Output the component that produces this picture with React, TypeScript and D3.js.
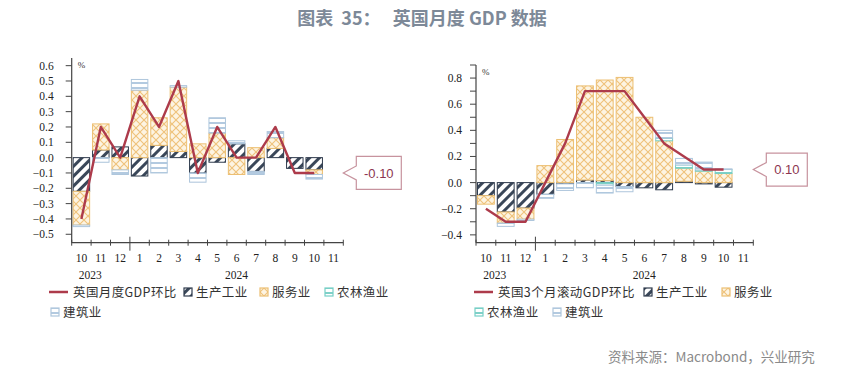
import React from "react";
import * as d3 from "d3";

const W = 859;
const H = 375;

// ---- data ----
const months = ["10", "11", "12", "1", "2", "3", "4", "5", "6", "7", "8", "9", "10", "11"];
const years = ["2023", "2024"];
const seriesNames = ["生产工业", "服务业", "农林渔业", "建筑业"];
const leftLineName = "英国月度GDP环比";
const rightLineName = "英国3个月滚动GDP环比";

// monthly m/m
const gdpMoM = [-0.4, 0.2, 0.0, 0.4, 0.2, 0.5, -0.1, 0.2, 0.0, 0.0, 0.2, -0.1, -0.1];
const prodMoM = [-0.22, 0.05, 0.07, -0.12, 0.08, 0.04, -0.1, -0.03, 0.09, -0.09, 0.06, -0.07, -0.08];
const servMoM = [-0.22, 0.17, -0.08, 0.44, 0.18, 0.42, 0.09, 0.16, -0.11, 0.065, 0.07, 0.0, -0.03];
const agriMoM = [0, 0, 0, 0, 0, 0, 0, 0, 0, 0, 0, 0, 0];
const consMoM = [-0.01, -0.03, -0.03, 0.07, -0.1, 0.01, -0.06, 0.1, 0.02, -0.02, 0.04, 0.0, -0.03];

// 3-month rolling
const gdp3M = [-0.2, -0.3, -0.3, 0.0, 0.3, 0.7, 0.7, 0.7, 0.5, 0.3, 0.2, 0.1, 0.1];
const prod3M = [-0.1, -0.225, -0.195, -0.09, -0.01, 0.02, 0.015, -0.03, -0.04, -0.055, 0.01, -0.01, -0.035];
const serv3M = [-0.065, -0.085, -0.085, 0.13, 0.33, 0.72, 0.77, 0.805, 0.5, 0.32, 0.1, 0.087, 0.07];
const agri3M = [0, 0, 0, 0, 0, 0, -0.02, 0, 0, 0.02, 0.025, 0.01, 0.03];
const cons3M = [0, -0.025, -0.01, -0.03, -0.05, -0.04, -0.06, -0.04, 0, 0.06, 0.05, 0.06, 0.005];

const leftTicks = d3.range(-5, 7).map((d) => d / 10);
const rightTicks = d3.range(-4, 10).map((d) => d / 10);
const rightLabelTicks = d3.range(-4, 9, 2).map((d) => d / 10);

const keys = ["prod", "serv", "agri", "cons"];
const seriesStyle: Record<string, { fill: string; stroke: string }> = {
  prod: { fill: "url(#pProd)", stroke: "#2f3b4d" },
  serv: { fill: "url(#pServ)", stroke: "#ecbf72" },
  agri: { fill: "url(#pAgri)", stroke: "#76cfc6" },
  cons: { fill: "url(#pCons)", stroke: "#aec6dc" },
};

const LINE_COLOR = "#ad3b4b";
const AXIS_COLOR = "#444";
const SERIF = "'Liberation Serif', 'DejaVu Serif', serif";
const CJK = "'Noto Sans CJK SC', 'Noto Sans', sans-serif";

type LegendItem = { kind: "line" | "box"; key?: string; label: string; x: number; y: number };

type PanelCfg = {
  xRange: [number, number];
  yDomain: [number, number];
  yRange: [number, number];
  ticks: number[];
  labelTicks: number[];
  labelGap: number;
  line: number[];
  parts: Record<string, number[]>;
  legend: LegendItem[];
  callout: string;
  calloutW: number;
};

function Panel({ cfg }: { cfg: PanelCfg }) {
  const x = d3.scaleBand<number>().domain(d3.range(months.length)).range(cfg.xRange).paddingInner(0.15).paddingOuter(0.075);
  const y = d3.scaleLinear().domain(cfg.yDomain).range(cfg.yRange);
  const step = x.step();
  const x0 = cfg.xRange[0];
  const x1 = cfg.xRange[1];
  const yBottom = cfg.yRange[0];
  const yTop = cfg.yRange[1];

  const rows = cfg.line.map((_, i) => {
    const r: Record<string, number> = {};
    keys.forEach((k) => (r[k] = cfg.parts[k][i]));
    return r;
  });
  const stacked = d3.stack<Record<string, number>>().keys(keys).offset(d3.stackOffsetDiverging)(rows);

  const linePath = d3
    .line<number>()
    .x((_, i) => (x(i) as number) + x.bandwidth() / 2)
    .y((d) => y(d))(cfg.line);

  const lastVal = cfg.line[cfg.line.length - 1];
  const tipX = x1;
  const tipY = y(lastVal);
  const bx = tipX + 13;
  const bw = cfg.calloutW;
  const bh = 33;
  const calloutPath = `M${bx},${tipY - bh / 2} H${bx + bw} V${tipY + bh / 2} H${bx} V${tipY + 7} L${tipX},${tipY} L${bx},${tipY - 7} Z`;

  return (
    <g>
      {stacked.map((s) => (
        <g key={s.key}>
          {s.map((d, i) => {
            const h = Math.abs(y(d[0]) - y(d[1]));
            if (h < 0.5) return null;
            return (
              <rect
                key={i}
                x={x(i)}
                width={x.bandwidth()}
                y={Math.min(y(d[0]), y(d[1]))}
                height={h}
                fill={seriesStyle[s.key].fill}
                stroke={seriesStyle[s.key].stroke}
                strokeWidth={1}
              />
            );
          })}
        </g>
      ))}
      <path d={linePath || ""} fill="none" stroke={LINE_COLOR} strokeWidth={2.4} strokeLinejoin="round" />

      <line x1={x0} x2={x0} y1={yBottom} y2={yTop} stroke={AXIS_COLOR} strokeWidth={1.2} />
      {cfg.ticks.map((t) => (
        <line key={t} x1={x0 - 6} x2={x0} y1={y(t)} y2={y(t)} stroke={AXIS_COLOR} strokeWidth={1} />
      ))}
      {cfg.labelTicks.map((t) => (
        <text key={t} x={x0 - cfg.labelGap} y={y(t)} dy="0.35em" textAnchor="end" fontFamily={SERIF} fontSize={11.5} fill="#222">
          {d3.format(".1f")(t)}
        </text>
      ))}
      <text x={x0 + 6} y={yTop + 10} fontFamily={SERIF} fontSize={9} fill="#333">%</text>

      <line x1={x0} x2={x1} y1={yBottom} y2={yBottom} stroke={AXIS_COLOR} strokeWidth={1.2} />
      {d3.range(months.length + 1).map((i) => (
        <line
          key={i}
          x1={x0 + (x1 - x0) * (i / months.length)}
          x2={x0 + (x1 - x0) * (i / months.length)}
          y1={yBottom - (i === 3 ? 6 : 3)}
          y2={yBottom + (i === 3 ? 8 : 3)}
          stroke={AXIS_COLOR}
          strokeWidth={1}
        />
      ))}
      {months.map((m, i) => (
        <text key={i} x={(x(i) as number) + x.bandwidth() / 2} y={yBottom + 19} textAnchor="middle" fontFamily={SERIF} fontSize={11.5} fill="#222">
          {m}
        </text>
      ))}
      <text x={(x(0) as number) + x.bandwidth() / 2 + step * 0.45} y={yBottom + 36} textAnchor="middle" fontFamily={SERIF} fontSize={11.5} fill="#222">
        {years[0]}
      </text>
      <text x={(x0 + step * 3 + x1) / 2} y={yBottom + 36} textAnchor="middle" fontFamily={SERIF} fontSize={11.5} fill="#222">
        {years[1]}
      </text>

      <path d={calloutPath} fill="#fff" stroke="#c7939e" strokeWidth={1.2} />
      <text x={bx + bw / 2} y={tipY} dy="0.36em" textAnchor="middle" fontFamily="'Liberation Sans', Arial, sans-serif" fontSize={13} fill="#8c3550">
        {cfg.callout}
      </text>

      {cfg.legend.map((l, i) =>
        l.kind === "line" ? (
          <g key={i}>
            <line x1={l.x} x2={l.x + 19} y1={l.y} y2={l.y} stroke={LINE_COLOR} strokeWidth={2.5} />
            <text x={l.x + 24} y={l.y} dy="0.36em" fontFamily={CJK} fontSize={12.5} letterSpacing={0.4} fill="#333">{l.label}</text>
          </g>
        ) : (
          <g key={i}>
            <rect x={l.x} y={l.y - 4} width={8} height={8} fill={seriesStyle[l.key as string].fill} stroke={seriesStyle[l.key as string].stroke} strokeWidth={1.2} />
            <text x={l.x + 12} y={l.y} dy="0.36em" fontFamily={CJK} fontSize={12.5} letterSpacing={0.4} fill="#333">{l.label}</text>
          </g>
        )
      )}
    </g>
  );
}

const leftCfg: PanelCfg = {
  xRange: [71.7, 343.3],
  yDomain: [-0.555, 0.65],
  yRange: [242.7, 58],
  ticks: leftTicks,
  labelTicks: leftTicks,
  labelGap: 18,
  line: gdpMoM,
  parts: { prod: prodMoM, serv: servMoM, agri: agriMoM, cons: consMoM },
  legend: [
    { kind: "line", label: leftLineName, x: 49, y: 292 },
    { kind: "box", key: "prod", label: seriesNames[0], x: 184, y: 292 },
    { kind: "box", key: "serv", label: seriesNames[1], x: 260, y: 292 },
    { kind: "box", key: "agri", label: seriesNames[2], x: 325, y: 292 },
    { kind: "box", key: "cons", label: seriesNames[3], x: 51, y: 312 },
  ],
  callout: "-0.10",
  calloutW: 45,
};

const rightCfg: PanelCfg = {
  xRange: [476, 753.3],
  yDomain: [-0.46, 0.9],
  yRange: [242.7, 65],
  ticks: rightTicks,
  labelTicks: rightLabelTicks,
  labelGap: 14,
  line: gdp3M,
  parts: { prod: prod3M, serv: serv3M, agri: agri3M, cons: cons3M },
  legend: [
    { kind: "line", label: rightLineName, x: 474, y: 292 },
    { kind: "box", key: "prod", label: seriesNames[0], x: 644, y: 292 },
    { kind: "box", key: "serv", label: seriesNames[1], x: 722, y: 292 },
    { kind: "box", key: "agri", label: seriesNames[2], x: 475, y: 312 },
    { kind: "box", key: "cons", label: seriesNames[3], x: 553, y: 312 },
  ],
  callout: "0.10",
  calloutW: 41,
};

export default function App() {
  return (
    <svg width={W} height={H} style={{ position: "absolute", left: 0, top: 0, background: "#fff" }}>
      <defs>
        <pattern id="pProd" width="7" height="7" patternUnits="userSpaceOnUse" patternTransform="rotate(45)">
          <rect width="7" height="7" fill="#fff" />
          <rect width="3" height="7" fill="#3a4759" />
        </pattern>
        <pattern id="pServ" width="8" height="8" patternUnits="userSpaceOnUse">
          <rect width="8" height="8" fill="#fdf4e2" />
          <path d="M0,0L8,8M8,0L0,8" stroke="#efc27a" strokeWidth={1.1} />
        </pattern>
        <pattern id="pAgri" width="5" height="5" patternUnits="userSpaceOnUse">
          <rect width="5" height="5" fill="#fff" />
          <rect y="2" width="5" height="2" fill="#7fd0c8" />
        </pattern>
        <pattern id="pCons" width="5" height="5" patternUnits="userSpaceOnUse">
          <rect width="5" height="5" fill="#fff" />
          <rect y="2" width="5" height="2" fill="#b3cae0" />
        </pattern>
      </defs>
      <rect width={W} height={H} fill="#fff" />
      <text x={422} y={25} textAnchor="middle" fontFamily={CJK} fontWeight="bold" fontSize={18} fill="#7d8998" style={{ whiteSpace: "pre" }}>
        {"图表  35：   英国月度 GDP 数据"}
      </text>
      <Panel cfg={leftCfg} />
      <Panel cfg={rightCfg} />
      <text x={608} y={362} fontFamily={CJK} fontSize={13.5} fill="#8a8a8a">
        资料来源：Macrobond，兴业研究
      </text>
    </svg>
  );
}
